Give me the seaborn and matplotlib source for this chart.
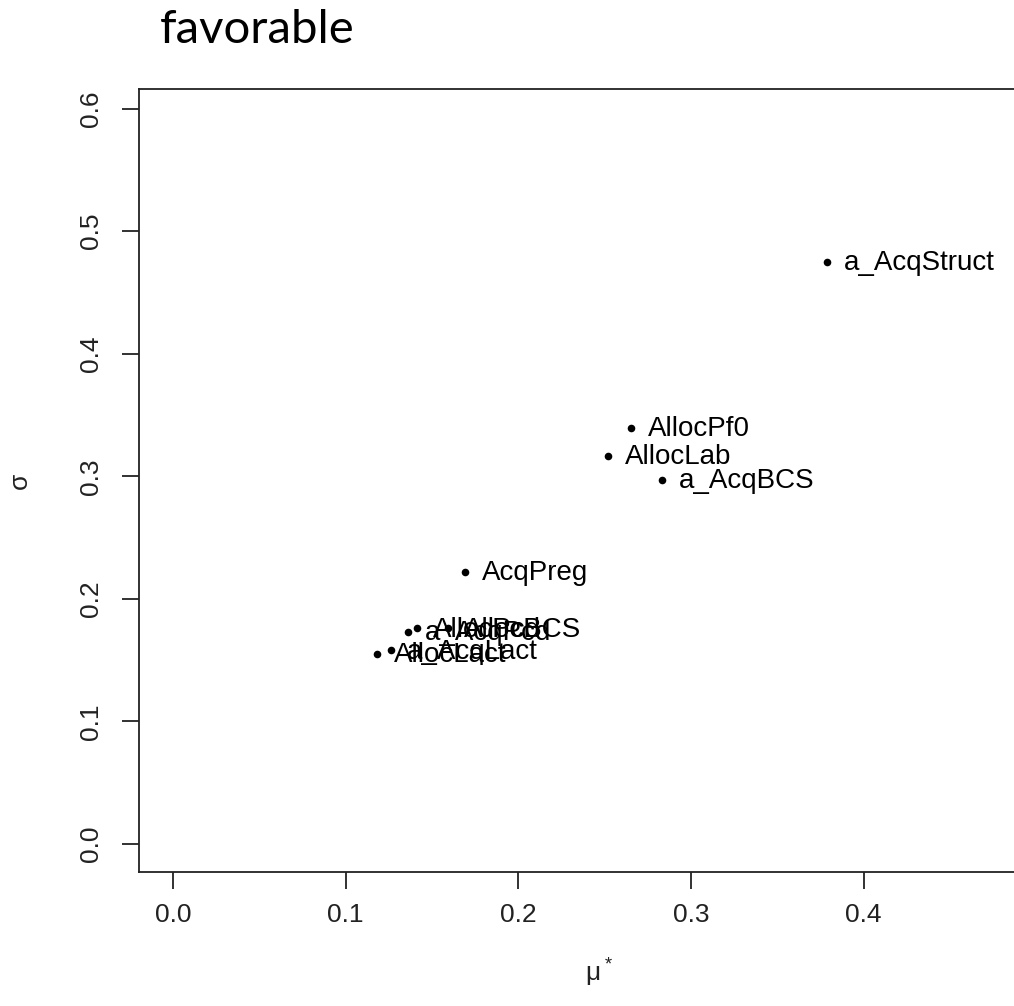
import matplotlib
matplotlib.use("Agg")
import matplotlib.pyplot as plt
import seaborn as sns
import pandas as pd

# Morris screening results: mean of absolute elementary effects vs their std
factors = ["a_AcqStruct", "AllocPf0", "AllocLab", "a_AcqBCS", "AcqPreg",
           "AllocBCS", "AllocPcd", "a_AcqPcd", "a_AcqLact", "AllocLact"]
mu_star = [0.379, 0.2655, 0.252, 0.283, 0.169,
           0.159, 0.141, 0.136, 0.126, 0.118]
sigma = [0.475, 0.3396, 0.3167, 0.297, 0.222,
         0.176, 0.176, 0.173, 0.158, 0.155]

x_ticks = [0.0, 0.1, 0.2, 0.3, 0.4]
y_ticks = [0.0, 0.1, 0.2, 0.3, 0.4, 0.5, 0.6]

df = pd.DataFrame({"factor": factors, "mu_star": mu_star, "sigma": sigma})

sns.set_style("white")
plt.rcParams["font.family"] = ["Liberation Sans", "DejaVu Sans"]

fig = plt.figure(figsize=(10.14, 10.06), dpi=100)
ax = fig.add_axes([0.1371, 0.1332, 0.908, 0.7783])

sns.scatterplot(data=df, x="mu_star", y="sigma", ax=ax, color="black",
                s=30, edgecolor="black", linewidth=0, zorder=2, legend=False)

for name, xv, yv in zip(df["factor"], df["mu_star"], df["sigma"]):
    ax.annotate(name, (xv, yv), xytext=(12, -1), textcoords="offset points",
                ha="left", va="center", fontsize=20, color="black", zorder=3)

ax.set_xlim(-0.0197, 0.5135)
ax.set_ylim(-0.0229, 0.616)
ax.set_xticks(x_ticks)
ax.set_xticklabels([f"{v:.1f}" for v in x_ticks])
ax.set_yticks(y_ticks)
ax.set_yticklabels([f"{v:.1f}" for v in y_ticks], rotation=90, va="center")

ax.tick_params(axis="both", direction="out", length=12, width=1.3,
               color="#222222", labelsize=19, labelcolor="#222222",
               bottom=True, left=True)
ax.tick_params(axis="x", pad=10)
ax.tick_params(axis="y", pad=14)
for side in ["left", "bottom", "top", "right"]:
    ax.spines[side].set_visible(True)
    ax.spines[side].set_color("#222222")
    ax.spines[side].set_linewidth(1.3)

ax.set_xlabel(r"$\mathregular{\mu^*}$", fontsize=19, color="#222222", labelpad=22)
ax.set_ylabel("σ", fontsize=19, color="#222222", labelpad=34)
ax.grid(False)

fig.text(0.158, 0.957, "favorable", fontsize=34, family=["Lato", "DejaVu Sans"],
         color="black", ha="left", va="baseline")

fig.savefig("out.png", dpi=100)
